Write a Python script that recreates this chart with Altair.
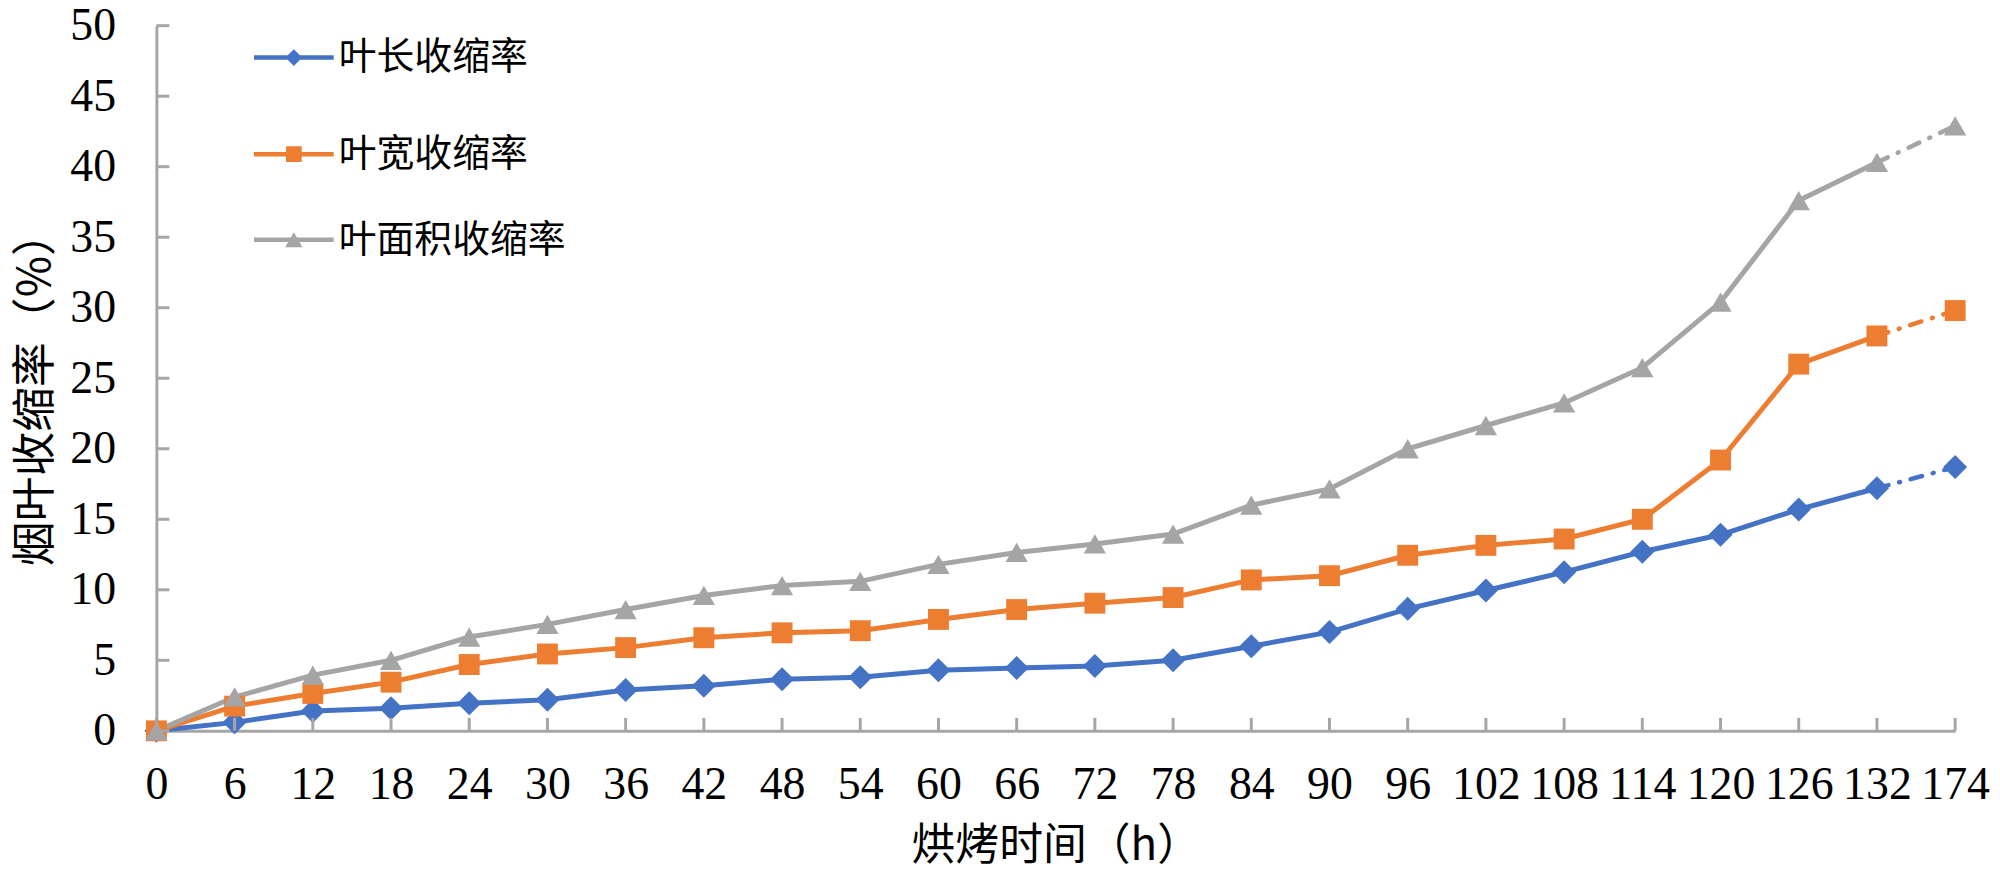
import altair as alt
import pandas as pd

# ---------------- data ----------------
hours = ["0", "6", "12", "18", "24", "30", "36", "42", "48", "54", "60", "66",
         "72", "78", "84", "90", "96", "102", "108", "114", "120", "126", "132", "174"]
series_names = ["叶长收缩率", "叶宽收缩率", "叶面积收缩率"]
leaf_length = [0, 0.6, 1.4, 1.6, 1.95, 2.2, 2.9, 3.2, 3.65, 3.8, 4.3, 4.45,
               4.6, 5.0, 6.0, 7.0, 8.65, 9.95, 11.25, 12.7, 13.9, 15.7, 17.2, 18.7]
leaf_width = [0, 1.75, 2.65, 3.45, 4.7, 5.45, 5.9, 6.6, 6.95, 7.1, 7.9, 8.6,
              9.05, 9.45, 10.7, 11.0, 12.45, 13.15, 13.6, 15.0, 19.2, 26.0, 28.0, 29.8]
leaf_area = [0, 2.4, 3.95, 5.0, 6.65, 7.55, 8.6, 9.6, 10.3, 10.6, 11.8, 12.65,
             13.25, 13.95, 16.0, 17.15, 20.0, 21.65, 23.25, 25.75, 30.4, 37.6, 40.3, 42.9]
y_ticks = [0, 5, 10, 15, 20, 25, 30, 35, 40, 45, 50]

# ---------------- style ----------------
colors = ["#4472C4", "#ED7D31", "#A5A5A5"]
point_shapes = ["diamond", "square", "triangle-up"]
point_sizes = [580, 440, 500]
legend_marker_sizes = [280, 250, 300]
legend_rows_y = [32, 129, 215]       # legend row centres (px, plot coords)
axis_gray = "#A6A6A6"
W, H = 1806, 708
num_font = "Liberation Serif"
cjk_font = "Noto Sans CJK SC"

rows = []
for name, vals in zip(series_names, [leaf_length, leaf_width, leaf_area]):
    for h, v in zip(hours, vals):
        rows.append({"h": h, "series": name, "value": v})
df = pd.DataFrame(rows)

color_scale = alt.Scale(domain=series_names, range=colors)

x_axis = alt.Axis(
    title="烘烤时间（h）", labelAngle=0, labelFont=num_font, labelFontSize=46,
    labelColor="black", labelPadding=32, labelOverlap=False, labelFlush=False,
    ticks=False, tickSize=0, domainColor=axis_gray, domainWidth=3, grid=False,
    titleFont=cjk_font, titleFontSize=44, titleFontWeight="normal", titleColor="black",
    titleX=W / 2, titleY=116, titleBaseline="middle", titleAlign="center",
)
y_axis = alt.Axis(
    title="烟叶收缩率（%）", values=y_ticks, labelFont=num_font, labelFontSize=46,
    labelColor="black", labelPadding=41, ticks=False, tickSize=0,
    domainColor=axis_gray, domainWidth=3, grid=False,
    titleFont=cjk_font, titleFontSize=45, titleFontWeight="normal", titleColor="black",
    titleAngle=270, titleX=-121, titleY=364, titleAlign="center", titleBaseline="middle",
)

x_scale = alt.Scale(type="point", padding=0)
y_scale = alt.Scale(domain=[0, 50], nice=False, zero=True)
x_enc = alt.X("h:N", sort=hours, scale=x_scale, axis=x_axis, title="烘烤时间（h）")
y_enc = alt.Y("value:Q", scale=y_scale, axis=y_axis, title="烟叶收缩率（%）")
c_enc = alt.Color("series:N", scale=color_scale, legend=None)

base = alt.Chart(df)

solid = base.transform_filter(alt.datum.h != "174").mark_line(strokeWidth=5).encode(
    x=x_enc, y=y_enc, color=c_enc
)
dashed = base.transform_filter(
    (alt.datum.h == "132") | (alt.datum.h == "174")
).mark_line(strokeWidth=4.5, strokeDash=[12, 11, 1, 11], strokeCap="round").encode(
    x=x_enc, y=y_enc, color=c_enc
)

point_layers = []
for name, shp, sz in zip(series_names, point_shapes, point_sizes):
    point_layers.append(
        base.transform_filter(alt.datum.series == name)
        .mark_point(shape=shp, filled=True, size=sz, opacity=1)
        .encode(x=x_enc, y=y_enc, color=c_enc)
    )

# inward tick marks
ytick_df = pd.DataFrame({"value": y_ticks})
ytick_layer = alt.Chart(ytick_df).mark_rule(color=axis_gray, strokeWidth=3).encode(
    y=y_enc, x=alt.value(0), x2=alt.value(13)
)
xtick_df = pd.DataFrame({"h": hours})
xtick_layer = alt.Chart(xtick_df).mark_rule(color=axis_gray, strokeWidth=3).encode(
    x=x_enc, y=alt.value(H), y2=alt.value(H - 13)
)

# legend: line + marker + label for each series
legend_layers = []
for name, shp, lsz, ly in zip(series_names, point_shapes, legend_marker_sizes, legend_rows_y):
    ldf = alt.Chart(pd.DataFrame({"series": [name]}))
    legend_layers.append(
        ldf.mark_rule(strokeWidth=4.5).encode(
            x=alt.value(98), x2=alt.value(178), y=alt.value(ly), color=c_enc
        )
    )
    legend_layers.append(
        ldf.mark_point(shape=shp, filled=True, size=lsz, opacity=1).encode(
            x=alt.value(138), y=alt.value(ly), color=c_enc
        )
    )
    legend_layers.append(
        ldf.mark_text(align="left", baseline="middle", font=cjk_font, fontSize=38,
                      color="black").encode(
            x=alt.value(183), y=alt.value(ly + 1), text="series:N"
        )
    )

chart = alt.layer(
    solid, dashed, *point_layers, ytick_layer, xtick_layer, *legend_layers
).properties(
    width=W, height=H,
    autosize=alt.AutoSizeParams(type="none"),
    padding={"left": 149, "top": 16, "right": 37, "bottom": 140},
    background="white",
).configure_view(stroke=None)

chart.save("out.html", embed_options={"renderer": "svg", "actions": False})
